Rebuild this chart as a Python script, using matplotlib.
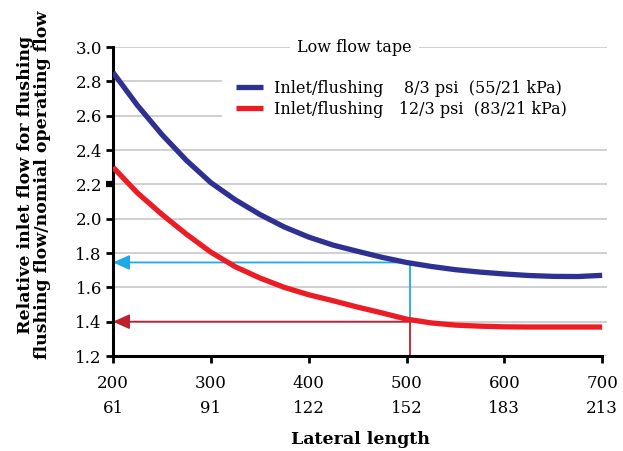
import matplotlib
matplotlib.use("Agg")
import matplotlib.pyplot as plt
from matplotlib.patches import Rectangle

plt.rcParams['font.family'] = ['DejaVu Serif']

# Data
length_ft = [200, 225, 250, 275, 300, 325, 350, 375, 400, 425, 450, 475, 500,
             525, 550, 575, 600, 625, 650, 675, 700]
blue_vals = [2.852, 2.66, 2.49, 2.34, 2.21, 2.11, 2.025, 1.952, 1.893, 1.846,
             1.81, 1.775, 1.745, 1.722, 1.703, 1.689, 1.678, 1.669, 1.664, 1.663, 1.670]
red_vals = [2.30, 2.15, 2.025, 1.91, 1.805, 1.72, 1.655, 1.60, 1.557, 1.522,
            1.485, 1.451, 1.415, 1.393, 1.38, 1.374, 1.370, 1.369, 1.369, 1.369, 1.369]
tick_ft = [200, 300, 400, 500, 600, 700]
tick_m = [61, 91, 122, 152, 183, 213]
blue_label = "Inlet/flushing    8/3 psi  (55/21 kPa)"
red_label = "Inlet/flushing   12/3 psi  (83/21 kPa)"
title = "Low flow tape"
ylabel = "Relative inlet flow for flushing\nflushing flow/nomial operating flow"
xlabel = "Lateral length"
ref_x = 504
ref_blue = 1.745
ref_red = 1.40

fig = plt.figure(figsize=(6.23, 4.51), dpi=100)
ax = fig.add_axes([0.1814, 0.2106, 0.793, 0.6851])

BLUE = "#2E3192"
RED = "#ED1C24"
CYAN = "#1EAAE7"
DRED = "#BE1E2D"

ax.set_xlim(200, 705)
ax.set_ylim(1.2, 3.0)
yt = [1.2, 1.4, 1.6, 1.8, 2.0, 2.2, 2.4, 2.6, 2.8, 3.0]
ax.set_yticks(yt)
ax.set_yticklabels([f"{v:.1f}" for v in yt])
ax.set_xticks(tick_ft)
ax.set_xticklabels([f"{a}\n{b}" for a, b in zip(tick_ft, tick_m)])
for lab in ax.get_xticklabels():
    lab.set_linespacing(1.6)

ax.grid(axis='y', color='#c8c8c8', lw=1.2, zorder=0)
ax.set_axisbelow(True)
for s in ['top', 'right']:
    ax.spines[s].set_visible(False)
ax.spines['left'].set_linewidth(2.2)
ax.spines['bottom'].set_linewidth(2.2)
ax.spines['bottom'].set_bounds(200, 700)
ax.tick_params(axis='both', direction='out', length=5, width=2, labelsize=12, pad=3)
ax.tick_params(axis='x', pad=9)

# white box hiding gridlines behind legend
ax.add_patch(Rectangle((0.2206, (2.5 - 1.2) / 1.8), 0.79, 0.4 / 1.8,
                       transform=ax.transAxes, facecolor='white', edgecolor='none',
                       zorder=1, clip_on=False))

# reference lines
ax.plot([ref_x, ref_x], [ref_blue, ref_red], color=CYAN, lw=1.3, zorder=2)
ax.plot([ref_x, ref_x], [ref_red, 1.2], color=DRED, lw=1.3, zorder=2)
ax.annotate("", xy=(200, ref_blue), xytext=(ref_x, ref_blue),
            arrowprops=dict(arrowstyle='-|>,head_length=1.0,head_width=0.45',
                            color=CYAN, lw=1.3, shrinkA=0, shrinkB=0), zorder=2)
ax.annotate("", xy=(200, ref_red), xytext=(ref_x, ref_red),
            arrowprops=dict(arrowstyle='-|>,head_length=1.0,head_width=0.45',
                            color=DRED, lw=1.3, shrinkA=0, shrinkB=0), zorder=2)

ax.plot(length_ft, blue_vals, color=BLUE, lw=3.8, label=blue_label, zorder=3,
        solid_capstyle='butt', solid_joinstyle='round')
ax.plot(length_ft, red_vals, color=RED, lw=3.8, label=red_label, zorder=3,
        solid_capstyle='butt', solid_joinstyle='round')

leg = ax.legend(loc='upper left', bbox_to_anchor=(0.236, 0.915), frameon=False,
                fontsize=11.5, handlelength=1.7, handletextpad=0.7,
                labelspacing=0.25, borderaxespad=0)

ax.text(447, 3.0, title, ha='center', va='center', fontsize=11.5, zorder=4,
        bbox=dict(facecolor='white', edgecolor='none', pad=5))

ax.set_ylabel(ylabel, fontsize=12.5, fontweight='bold', linespacing=1.0)
ax.yaxis.set_label_coords(-0.125, 0.555)
ax.set_xlabel(xlabel, fontsize=12.5, fontweight='bold', labelpad=10)

# thicker tick at 2.2 as in reference
ax.yaxis.get_major_ticks()[5].tick1line.set_markeredgewidth(4.5)

fig.savefig("out.png", dpi=100)
